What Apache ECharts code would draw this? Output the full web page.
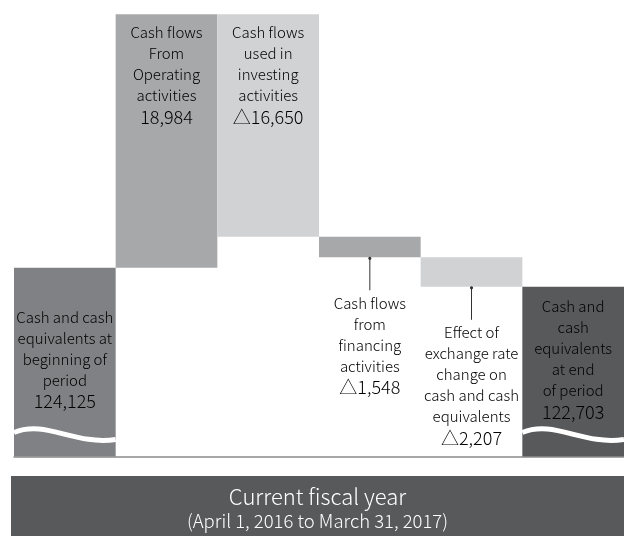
<!DOCTYPE html>
<html>
<head>
<meta charset="utf-8">
<script src="https://cdn.jsdelivr.net/npm/echarts@6/dist/echarts.min.js"></script>
<style>
  html, body { margin: 0; padding: 0; background: #fff; }
  #chart { width: 624px; height: 536px; }
</style>
</head>
<body>
<div id="chart"></div>
<script>
// Cash flow waterfall, millions of yen
const categories = [
  'Cash and cash equivalents at beginning of period',
  'Cash flows From Operating activities',
  'Cash flows used in investing activities',
  'Cash flows from financing activities',
  'Effect of exchange rate change on cash and cash equivalents',
  'Cash and cash equivalents at end of period'
];
const labelLines = [
  ['Cash and cash', 'equivalents at', 'beginning of', 'period'],
  ['Cash flows', 'From', 'Operating', 'activities'],
  ['Cash flows', 'used in', 'investing', 'activities'],
  ['Cash flows', 'from', 'financing', 'activities'],
  ['Effect of', 'exchange rate', 'change on', 'cash and cash', 'equivalents'],
  ['Cash and', 'cash', 'equivalents', 'at end', 'of period']
];
const values = [124125, 18984, -16650, -1548, -2207, 122703];
const kinds = ['total', 'delta', 'delta', 'delta', 'delta', 'total'];
const barColors = ['#808184', '#a7a8aa', '#d1d2d4', '#a7a8aa', '#d1d2d4', '#58595b'];
const textColors = ['#333333', '#333333', '#333333', '#333333', '#333333', '#ffffff'];
const footerTitle = 'Current fiscal year';
const footerSub = '(April 1, 2016 to March 31, 2017)';

const Y_MIN = 110000;
const Y_MAX = 143200;
const FONT = '"Noto Sans CJK JP", "Noto Sans", sans-serif';

function fmt(v) {
  const s = Math.abs(v).toLocaleString('en-US');
  return v < 0 ? '\u25B3' + s : s;
}

// running totals -> [index, low, high]
const bars = [];
let running = 0;
values.forEach((v, i) => {
  if (kinds[i] === 'total') {
    running = v;
    bars.push([i, Y_MIN, v]);
  } else {
    const start = running;
    running += v;
    bars.push([i, Math.min(start, running), Math.max(start, running)]);
  }
});

function labelText(i) {
  const lines = labelLines[i].map(l => '{t|' + l + '}');
  lines.push('{n|' + fmt(values[i]) + '}');
  return lines.join('\n');
}

function renderItem(params, api) {
  const i = api.value(0);
  const lo = api.value(1);
  const hi = api.value(2);
  const pTop = api.coord([i, hi]);
  const pBot = api.coord([i, lo]);
  const w = api.size([1, 0])[0];
  const x = pTop[0] - w / 2;
  const h = pBot[1] - pTop[1];
  const cx = pTop[0];
  const children = [{
    type: 'rect',
    shape: { x: x, y: pTop[1], width: w, height: h },
    style: { fill: barColors[i] }
  }];
  const rich = {
    t: { fontFamily: FONT, fontWeight: 300, fontSize: 15, lineHeight: 21, color: textColors[i], align: 'center' },
    n: { fontFamily: FONT, fontWeight: 300, fontSize: 18, lineHeight: 22, color: textColors[i], align: 'center' }
  };
  if (kinds[i] === 'total') {
    const base = pBot[1];
    // broken-axis wave near the bottom of the column
    children.push({
      type: 'bezierCurve',
      shape: {
        x1: x, y1: base - 24,
        cpx1: x + 32, cpy1: base - 37,
        cpx2: x + 60, cpy2: base - 11,
        x2: x + w, y2: base - 17
      },
      style: { stroke: '#ffffff', lineWidth: 5, fill: null }
    });
    children.push({
      type: 'text',
      style: {
        x: cx, y: base - 97, text: labelText(i), rich: rich,
        align: 'center', verticalAlign: 'middle'
      }
    });
  } else if (h > 100) {
    children.push({
      type: 'text',
      style: {
        x: cx, y: pTop[1] + 8, text: labelText(i), rich: rich,
        align: 'center', verticalAlign: 'top'
      }
    });
  } else {
    const y0 = pBot[1];
    children.push({
      type: 'line',
      shape: { x1: cx, y1: y0, x2: cx, y2: y0 + 33 },
      style: { stroke: '#333333', lineWidth: 1 }
    });
    children.push({
      type: 'circle',
      shape: { cx: cx, cy: y0 + 1, r: 1.6 },
      style: { fill: '#333333' }
    });
    children.push({
      type: 'text',
      style: {
        x: cx, y: y0 + 35, text: labelText(i), rich: rich,
        align: 'center', verticalAlign: 'top'
      }
    });
  }
  return { type: 'group', children: children };
}

const chart = echarts.init(document.getElementById('chart'), null, { renderer: 'canvas' });
chart.setOption({
  animation: false,
  backgroundColor: '#ffffff',
  grid: { left: 14, width: 613, top: 13, bottom: 79.5 },
  xAxis: {
    type: 'category',
    data: categories,
    axisLine: { show: true, lineStyle: { color: '#8a8b8d', width: 1.5 } },
    axisTick: { show: false },
    axisLabel: { show: false },
    splitLine: { show: false }
  },
  yAxis: {
    type: 'value',
    min: Y_MIN,
    max: Y_MAX,
    show: false,
    splitLine: { show: false }
  },
  series: [{
    type: 'custom',
    renderItem: renderItem,
    data: bars,
    encode: { x: 0, y: [1, 2] },
    clip: false
  }],
  graphic: [{
    type: 'group',
    left: 11,
    top: 476,
    children: [
      { type: 'rect', shape: { x: 0, y: 0, width: 620, height: 62 }, style: { fill: '#58595b' } },
      { type: 'text', style: { x: 306.5, y: 21, text: footerTitle, fill: '#ffffff',
        font: '300 22px ' + FONT, align: 'center', verticalAlign: 'middle' } },
      { type: 'text', style: { x: 306.5, y: 45, text: footerSub, fill: '#ffffff',
        font: '300 18.5px ' + FONT, align: 'center', verticalAlign: 'middle' } }
    ]
  }]
});
</script>
</body>
</html>
